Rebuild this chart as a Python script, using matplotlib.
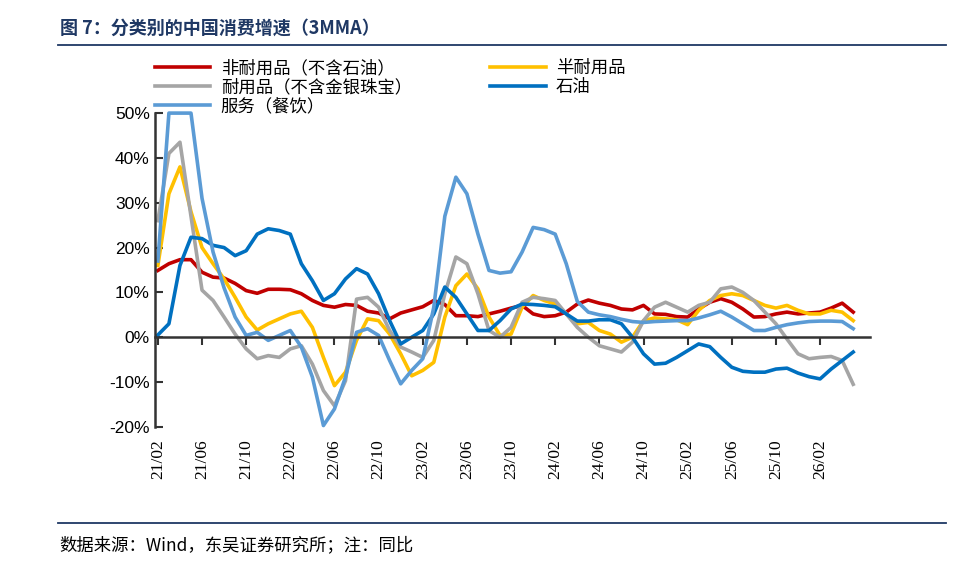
import matplotlib
matplotlib.use('Agg')
import matplotlib.pyplot as plt
import matplotlib.transforms as mtransforms
import numpy as np

plt.rcParams['font.family'] = ['Noto Sans CJK SC', 'DejaVu Sans']

# monthly, 21/02 .. 26/05
months = ['%02d/%02d' % (21 + (m // 12), m % 12 + 1) for m in range(1, 65)]

nondurable = [14.9, 16.4, 17.3, 17.3, 14.5, 13.4, 13.2, 12.0, 10.4, 9.8, 10.7, 10.7, 10.6, 9.7, 8.2, 7.1,
              6.7, 7.3, 7.1, 5.8, 5.4, 4.1, 5.4, 6.1, 6.8, 8.2, 7.3, 4.8, 4.8, 4.6, 5.2, 5.8,
              6.5, 7.1, 5.2, 4.6, 4.8, 5.6, 7.4, 8.3, 7.6, 7.1, 6.3, 6.1, 7.1, 5.2, 5.1, 4.6,
              4.5, 6.3, 7.8, 8.6, 7.8, 6.3, 4.5, 4.6, 5.2, 5.6, 5.2, 5.4, 5.6, 6.5, 7.6, 5.6]
semidurable = [16.0, 32.0, 38.0, 28.0, 20.0, 16.4, 13.0, 8.9, 4.5, 1.6, 3.0, 4.1, 5.2, 5.8, 2.2, -4.5,
               -10.8, -7.8, -0.7, 4.1, 3.7, 0.7, -3.7, -8.6, -7.4, -5.6, 4.5, 11.5, 14.1, 10.8, 4.5, 0.4,
               0.7, 6.7, 9.3, 8.2, 7.4, 5.2, 3.0, 3.3, 1.5, 0.7, -1.1, 0.0, 3.7, 4.3, 4.1, 3.9,
               2.8, 6.0, 8.2, 9.3, 9.7, 9.3, 8.2, 7.1, 6.5, 7.1, 6.0, 5.2, 5.2, 6.0, 5.6, 3.7]
durable = [26.0, 41.0, 43.5, 27.0, 10.5, 8.2, 4.5, 0.7, -2.6, -4.8, -4.1, -4.5, -2.6, -1.9, -6.0, -11.9,
           -15.3, -9.7, 8.5, 8.9, 6.7, 1.5, -2.2, -3.3, -4.5, -0.7, 9.7, 17.9, 16.4, 9.7, 1.5, 0.0,
           2.2, 7.8, 8.9, 8.6, 8.2, 5.2, 2.2, 0.0, -1.9, -2.6, -3.3, -1.1, 3.7, 6.7, 7.8, 6.7,
           5.6, 7.1, 7.8, 10.8, 11.2, 10.0, 8.2, 5.6, 3.0, -0.4, -3.7, -4.8, -4.5, -4.3, -5.2, -10.5]
oil = [0.5, 3.0, 16.0, 22.3, 22.0, 20.5, 20.0, 18.2, 19.3, 23.0, 24.2, 23.8, 23.0, 16.4, 12.6, 8.2,
       9.7, 13.0, 15.3, 14.1, 9.7, 3.7, -1.5, 0.0, 1.5, 5.2, 11.2, 8.9, 5.2, 1.5, 1.5, 3.7,
       6.3, 7.4, 7.3, 7.1, 6.8, 5.2, 3.6, 3.6, 3.9, 3.9, 3.0, 0.0, -3.7, -6.0, -5.8, -4.5,
       -3.0, -1.5, -2.1, -4.5, -6.7, -7.6, -7.8, -7.8, -7.1, -6.9, -8.0, -8.8, -9.3, -7.1, -5.2, -3.3]
# values above 50% are shown capped at the axis top, as in the source
services = [17.0, 50.0, 50.0, 50.0, 31.0, 19.0, 11.0, 4.5, 0.4, 1.1, -0.7, 0.4, 1.5, -2.2, -8.9, -19.7,
            -16.0, -8.9, 1.1, 1.9, 0.4, -5.2, -10.4, -7.4, -4.8, 6.7, 27.0, 35.7, 32.0, 23.0, 14.9, 14.3,
            14.6, 19.0, 24.5, 24.0, 23.0, 16.4, 8.0, 5.6, 5.0, 4.6, 4.0, 3.5, 3.3, 3.5, 3.6, 3.7,
            3.7, 4.3, 5.0, 5.8, 4.5, 3.0, 1.5, 1.5, 2.2, 2.8, 3.2, 3.5, 3.6, 3.6, 3.5, 1.9]

names = ['非耐用品（不含石油）', '半耐用品', '耐用品（不含金银珠宝）', '石油', '服务（餐饮）']
colors = ['#C00000', '#FFC000', '#A5A5A5', '#0070C0', '#5B9BD5']
series = [nondurable, semidurable, durable, oil, services]

fig = plt.figure(figsize=(9.6, 5.8), dpi=100)
ax = fig.add_axes([0.161, 0.264, 0.745, 0.541])
x = np.arange(len(months))
lines = []
for s, c, n in zip(series, colors, names):
  l, = ax.plot(x, s, color=c, linewidth=2.6, label=n, solid_joinstyle='round', clip_on=False)
  lines.append(l)

ax.set_xlim(-0.3, 64.5)
ax.set_ylim(-20, 50)
ax.set_yticks(range(-20, 51, 10))
ax.set_yticklabels(['%d%%' % v for v in range(-20, 51, 10)], family='Liberation Sans', fontsize=12.5)
for sp in ['top', 'right']:
  ax.spines[sp].set_visible(False)
ax.spines['bottom'].set_position(('data', 0))
for sp in ['left', 'bottom']:
  ax.spines[sp].set_color('#333333')
  ax.spines[sp].set_linewidth(1.8)
ax.tick_params(axis='y', direction='in', length=6, width=1.5, colors='#333333', labelcolor='black')
ticks = x[::4]
ax.set_xticks(ticks)
ax.set_xticklabels([])
ax.tick_params(axis='x', direction='out', length=6, width=1.5, colors='#333333')
trans = mtransforms.blended_transform_factory(ax.transData, ax.transAxes)
for t in ticks:
  ax.text(t, -0.04, months[t], transform=trans, rotation=90, ha='center', va='top',
          fontsize=12.5, family='Liberation Serif')

order = [0, 2, 4, 1, 3]
fig.legend([lines[i] for i in order], [names[i] for i in order], ncol=2, frameon=False,
           loc='upper left', bbox_to_anchor=(0.145, 0.925), fontsize=12.5, handlelength=3.2,
           columnspacing=4.5, labelspacing=0.05, handletextpad=0.6)

fig.text(0.062, 0.952, '图 7：分类别的中国消费增速（3MMA）', fontsize=13, fontweight='bold',
         color='#1F3864', va='center')
fig.add_artist(plt.Line2D([0.06, 0.985], [0.922, 0.922], color='#1F3864', linewidth=1.3))
fig.add_artist(plt.Line2D([0.06, 0.985], [0.098, 0.098], color='#1F3864', linewidth=1.3))
fig.text(0.062, 0.06, '数据来源：Wind，东吴证券研究所；注：同比', fontsize=12.5, va='center')

fig.savefig('out.png', dpi=100)
